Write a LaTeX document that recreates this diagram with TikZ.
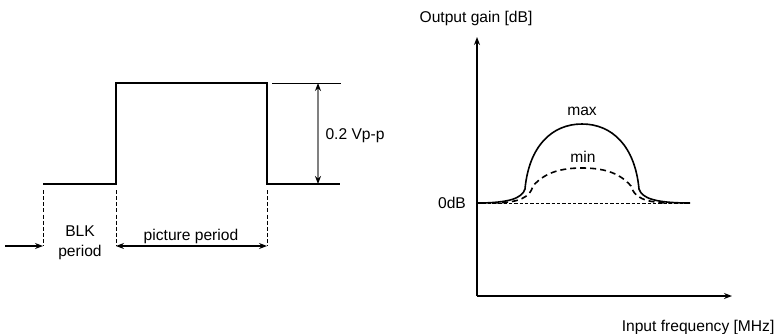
\documentclass[tikz,border=0pt]{standalone}
\usepackage{fontspec}
\setmainfont{Liberation Sans}
\usetikzlibrary{arrows.meta, positioning}

\begin{document}
\begin{tikzpicture}[
  x=0.75pt, y=-0.75pt,
  every node/.style={font=\fontsize{11.7}{15}\selectfont, align=center, inner sep=1pt},
  wave/.style={line width=1.5pt, line join=miter},
  guide/.style={line width=0.6pt, dash pattern=on 3pt off 1.6pt},
  ref/.style={line width=0.75pt},
  dim/.style={{Stealth[length=6pt, black]}-{Stealth[length=6pt, black]}, line width=0.8pt},
  arr/.style={-{Stealth[length=6pt]}, line width=0.8pt},
  axis/.style={-{Stealth[length=6pt]}, line width=1pt},
  gain/.style={line width=1.2pt},
  zeroline/.style={line width=0.5pt, dash pattern=on 2.5pt off 1.5pt}
]
  \useasboundingbox (0,0) rectangle (776,333);

  % --- Video signal (left) ---
  \coordinate (lowL)  at (43,184);
  \coordinate (riseB) at (116,184);
  \coordinate (riseT) at (116,83);
  \coordinate (fallT) at (267,83);
  \coordinate (fallB) at (267,184);
  \coordinate (lowR)  at (340,184);
  \draw[wave] (lowL) -- (riseB) -- (riseT) -- (fallT) -- (fallB) -- (lowR);

  % amplitude
  \coordinate (topA) at (272,83);
  \coordinate (topB) at (341,83);
  \draw[ref] (topA) -- (topB);
  \coordinate (ampT) at (318,83);
  \coordinate (ampB) at (318,184);
  \draw[dim, black!50, line width=1.2pt] (ampT) -- (ampB);
  \node (amp) at (355,136) {0.2 Vp-p};

  % period guides
  \coordinate (gA0) at (43,190);  \coordinate (gA1) at (43,246);
  \coordinate (gB0) at (116,190); \coordinate (gB1) at (116,246);
  \coordinate (gC0) at (267,190); \coordinate (gC1) at (267,246);
  \draw[guide] (gA0) -- (gA1);
  \draw[guide] (gB0) -- (gB1);
  \draw[guide] (gC0) -- (gC1);

  \coordinate (blkIn) at (5,246);
  \draw[arr] (blkIn) -- (gA1);
  \draw[dim] (gB1) -- (gC1);
  \node (blk) at (80,243) {BLK\\period};
  \node (pic) at (191,236) {picture period};

  % --- Gain curve (right) ---
  \coordinate (org)  at (477,296);
  \coordinate (ytip) at (477,37);
  \coordinate (xtip) at (732,296);
  \draw[axis] (org) -- (ytip);
  \draw[axis] (org) -- (xtip);
  \node (ylbl) at (476,18) {Output gain [dB]};
  \node[anchor=east] (xlbl) at (776,327) {Input frequency [MHz]};

  \coordinate (z0) at (477,203);
  \coordinate (z1) at (690,203);
  \draw[zeroline] (z0) -- (z1);
  \node (zdb) at (452,203) {0dB};

  % max response
  \draw[gain] (z0) .. controls (510,203) and (522,198) .. (525,189)
              .. controls (529,146) and (552,124) .. (582,124)
              .. controls (612,124) and (635,146) .. (639,189)
              .. controls (642,198) and (654,203) .. (z1);
  \node (max) at (582,111) {max};

  % min response
  \draw[gain, dash pattern=on 4.5pt off 3pt] (492,203) .. controls (520,203) and (530,197) .. (533,186)
              .. controls (545,172) and (562,168) .. (582,168)
              .. controls (602,168) and (619,172) .. (631,186)
              .. controls (634,197) and (644,203) .. (672,203);
  \node (min) at (583,157) {min};
\end{tikzpicture}
\end{document}
